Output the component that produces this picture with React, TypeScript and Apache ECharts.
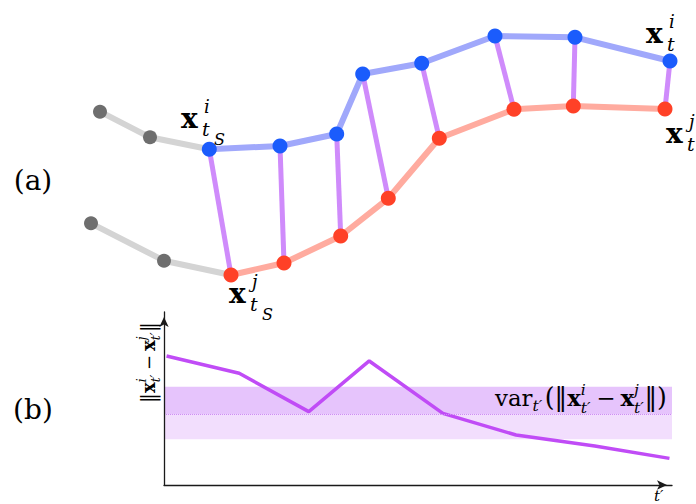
import React, { useEffect, useRef } from "react";
import * as echarts from "echarts";

// ---- Data (panel a): trajectories in diagram units ----
const grayIPoints = [[100, 111.7], [150, 137.3]];
const blueIPoints = [[209.3, 149.3], [280, 146], [336.7, 134], [362.7, 74], [421.7, 63.3], [495, 36], [575, 37.3], [670, 61]];
const grayJPoints = [[91, 223.3], [164, 260.7]];
const redJPoints = [[231, 275], [284, 263], [340.7, 236], [388.3, 198.3], [439.3, 138.3], [514, 109.3], [573.3, 106], [665, 109]];

// ---- Data (panel b): distance over t' ----
const tPrimeX = [0.5, 14.8, 28.5, 40.4, 54.9, 69.3, 84.8, 99.5];
const distValues = [74.6, 64.6, 42.4, 71.7, 41.4, 28.9, 22.5, 15.4];
const varMean = 41.0;
const varUpper = 56.8;
const varLower = 26.4;

const SERIF = '"DejaVu Serif", "DejaVu Sans", serif';

let measureCtx: CanvasRenderingContext2D | null = null;
function measure(text: string, size: number, bold?: boolean, italic?: boolean) {
  if (!measureCtx) measureCtx = document.createElement("canvas").getContext("2d");
  if (!measureCtx) return text.length * size * 0.6;
  measureCtx.font = `${italic ? "italic " : ""}${bold ? "bold " : ""}${size}px ${SERIF}`;
  return measureCtx.measureText(text).width;
}

function txt(text: string, x: number, baseline: number, size: number, opts: any = {}) {
  const align = opts.align || "left";
  return {
    type: "text",
    x,
    y: baseline - 0.35 * size,
    silent: true,
    z: 100,
    style: {
      text,
      fontFamily: SERIF,
      fontSize: size,
      fontWeight: opts.bold ? "bold" : "normal",
      fontStyle: opts.italic ? "italic" : "normal",
      fill: opts.color || "#000",
      textAlign: align,
      align,
      textVerticalAlign: "middle",
      verticalAlign: "middle",
    },
  };
}

function layoutMath(tokens: any[], M: number) {
  const out: any[] = [];
  let x = 0;
  for (const tk of tokens) {
    if (tk.sup || tk.sub) {
      let w = 0;
      if (tk.sup) {
        const sz = tk.sup.s * M;
        out.push({ text: tk.sup.t, x, dy: -0.46 * M, size: sz, b: tk.sup.b, i: tk.sup.i });
        w = Math.max(w, measure(tk.sup.t, sz, tk.sup.b, tk.sup.i));
      }
      if (tk.sub) {
        const sz = tk.sub.s * M;
        out.push({ text: tk.sub.t, x, dy: (tk.sup ? 0.32 : 0.22) * M, size: sz, b: tk.sub.b, i: tk.sub.i });
        w = Math.max(w, measure(tk.sub.t, sz, tk.sub.b, tk.sub.i));
      }
      x += w + 0.03 * M;
    } else {
      x += (tk.pre || 0) * M;
      const sz = tk.s * M;
      out.push({ text: tk.t, x, dy: 0, size: sz, b: tk.b, i: tk.i });
      x += measure(tk.t, sz, tk.b, tk.i) + (tk.post || 0) * M;
    }
  }
  return { items: out, width: x };
}

function fitMath(tokens: any[], target: number, x0: number, baseline: number) {
  const base = layoutMath(tokens, 100);
  const M = (100 * target) / base.width;
  const res = layoutMath(tokens, M);
  return res.items.map((it: any) => txt(it.text, x0 + it.x, baseline + it.dy, it.size, { bold: it.b, italic: it.i }));
}

const normTokens = [
  { t: "‖", s: 1.1 },
  { t: "x", s: 1, b: true },
  { sup: { t: "i", s: 0.68, i: true }, sub: { t: "t′", s: 0.68, i: true } },
  { t: "−", s: 1, pre: 0.22, post: 0.22 },
  { t: "x", s: 1, b: true },
  { sup: { t: "j", s: 0.68, i: true }, sub: { t: "t′", s: 0.68, i: true } },
  { t: "‖", s: 1.1 },
];

const varTokens = [
  { t: "var", s: 1 },
  { sub: { t: "t′", s: 0.68, i: true } },
  { t: "(", s: 1.1, pre: 0.08 },
  ...normTokens,
  { t: ")", s: 1.1 },
];

function pointLabel(supT: string, x0: number, base: number, withS: boolean) {
  const els: any[] = [];
  els.push(txt("x", x0, base, 28, { bold: true }));
  els.push(txt(supT, x0 + 23, base - 15, 18, { italic: true }));
  els.push(txt("t", x0 + 21, base + 8, 19, { italic: true }));
  if (withS) els.push(txt("S", x0 + 33, base + 17, 16, { italic: true }));
  return els;
}

export default function App() {
  const ref = useRef<HTMLDivElement>(null);
  useEffect(() => {
    if (!ref.current) return;
    const chart = echarts.init(ref.current, undefined, { renderer: "svg" });

    const graphicEls: any[] = [
      { type: "text", x: 33, y: 180, silent: true, style: { text: "(a)", fontFamily: SERIF, fontSize: 28, fill: "#000", textAlign: "center", align: "center", textVerticalAlign: "middle", verticalAlign: "middle" } },
      { type: "text", x: 33, y: 409, silent: true, style: { text: "(b)", fontFamily: SERIF, fontSize: 28, fill: "#000", textAlign: "center", align: "center", textVerticalAlign: "middle", verticalAlign: "middle" } },
      ...pointLabel("i", 181, 128, true),
      ...pointLabel("i", 646, 43, false),
      ...pointLabel("j", 666, 143, false),
      ...pointLabel("j", 229, 303, true),
      ...fitMath(varTokens, 172, 495, 406),
      {
        type: "group",
        x: 155,
        y: 403,
        rotation: Math.PI / 2,
        children: fitMath(normTokens, 81, 0, 0),
      },
      txt("t′", 654, 501, 15, { italic: true }),
    ];

    const axisLineStyle = { color: "#1a1a1a", width: 1.3 };

    const option: any = {
      animation: false,
      grid: [
        { left: 0, top: 0, width: 696, height: 504 },
        { left: 164, top: 312, width: 508, height: 173 },
      ],
      xAxis: [
        { gridIndex: 0, type: "value", min: 0, max: 696, show: false },
        {
          gridIndex: 1, type: "value", min: 0, max: 100, z: 6,
          axisLine: { show: true, onZero: false, symbol: ["none", "arrow"], symbolSize: [7, 10], symbolOffset: [0, -5], lineStyle: axisLineStyle },
          axisTick: { show: false }, axisLabel: { show: false }, splitLine: { show: false },
        },
      ],
      yAxis: [
        { gridIndex: 0, type: "value", min: 0, max: 504, inverse: true, show: false },
        {
          gridIndex: 1, type: "value", min: 0, max: 100, z: 6,
          axisLine: { show: true, onZero: false, symbol: ["none", "arrow"], symbolSize: [7, 10], symbolOffset: [0, -5], lineStyle: axisLineStyle },
          axisTick: { show: false }, axisLabel: { show: false }, splitLine: { show: false },
        },
      ],
      series: [
        { type: "line", xAxisIndex: 0, yAxisIndex: 0, data: [...grayIPoints, blueIPoints[0]], symbol: "none", lineStyle: { color: "#d4d4d4", width: 6 }, z: 2, silent: true },
        { type: "line", xAxisIndex: 0, yAxisIndex: 0, data: [...grayJPoints, redJPoints[0]], symbol: "none", lineStyle: { color: "#d4d4d4", width: 6 }, z: 2, silent: true },
        { type: "line", xAxisIndex: 0, yAxisIndex: 0, data: blueIPoints, symbol: "none", lineStyle: { color: "#a0a8fb", width: 6 }, z: 2, silent: true },
        { type: "line", xAxisIndex: 0, yAxisIndex: 0, data: redJPoints, symbol: "none", lineStyle: { color: "#ffab9f", width: 6 }, z: 2, silent: true },
        {
          type: "lines", coordinateSystem: "cartesian2d", xAxisIndex: 0, yAxisIndex: 0, z: 3, silent: true,
          data: blueIPoints.map((p, k) => ({ coords: [p, redJPoints[k]] })),
          lineStyle: { color: "#cf8bfb", width: 5, opacity: 1, curveness: 0 },
        },
        { type: "scatter", xAxisIndex: 0, yAxisIndex: 0, data: [...grayIPoints, ...grayJPoints], symbolSize: 14, itemStyle: { color: "#6e6e6e", opacity: 1 }, z: 5, silent: true },
        { type: "scatter", xAxisIndex: 0, yAxisIndex: 0, data: blueIPoints, symbolSize: 15, itemStyle: { color: "#1b5cfc", opacity: 1 }, z: 5, silent: true },
        { type: "scatter", xAxisIndex: 0, yAxisIndex: 0, data: redJPoints, symbolSize: 15, itemStyle: { color: "#ff4127", opacity: 1 }, z: 5, silent: true },
        {
          type: "line", xAxisIndex: 1, yAxisIndex: 1, z: 1, silent: true,
          data: tPrimeX.map((x, k) => [x, distValues[k]]),
          symbol: "none", lineStyle: { opacity: 0 },
          markArea: {
            silent: true,
            data: [
              [{ yAxis: varMean, itemStyle: { color: "#e6c4fc", opacity: 1 } }, { yAxis: varUpper }],
              [{ yAxis: varLower, itemStyle: { color: "#f2defd", opacity: 1 } }, { yAxis: varMean }],
            ],
          },
          markLine: {
            silent: true, symbol: ["none", "none"], label: { show: false },
            lineStyle: { type: "dotted", color: "#cf8cf5", width: 1 },
            data: [{ yAxis: varMean }],
          },
        },
        {
          type: "line", xAxisIndex: 1, yAxisIndex: 1, z: 3, silent: true,
          data: tPrimeX.map((x, k) => [x, distValues[k]]),
          symbol: "none", lineStyle: { color: "#c04cf6", width: 3.5 },
        },
      ],
      graphic: { elements: graphicEls },
    };
    chart.setOption(option);
    return () => chart.dispose();
  }, []);
  return <div ref={ref} style={{ position: "fixed", left: 0, top: 0, width: 696, height: 504, background: "#fff" }} />;
}
